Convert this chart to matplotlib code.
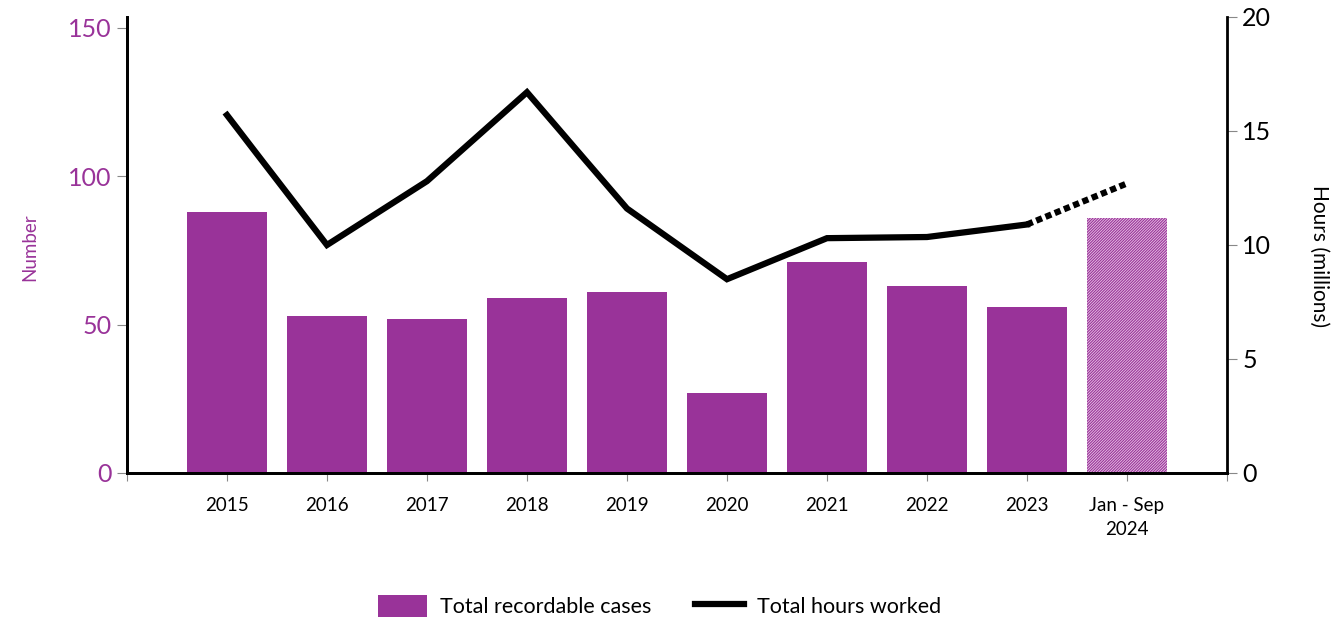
import numpy as np
import matplotlib.pyplot as plt
from matplotlib.lines import Line2D
from matplotlib.patches import Patch

plt.rcParams['font.family'] = ['Lato', 'DejaVu Sans']
plt.rcParams['hatch.linewidth'] = 0.8

years = ['2015', '2016', '2017', '2018', '2019', '2020', '2021', '2022', '2023', 'Jan - Sep\n2024']
cases = [88, 53, 52, 59, 61, 27, 71, 63, 56, 86]
hours = [15.7, 10.0, 12.8, 16.7, 11.6, 8.5, 10.3, 10.35, 10.9, 12.7]

purple = '#993399'
tick_grey = '#888888'

fig = plt.figure(figsize=(13.35, 6.25), dpi=100)
ax = fig.add_axes([0.0951, 0.2432, 0.824, 0.7296])
ax2 = ax.twinx()

x = np.arange(1, len(years) + 1)

# full-year bars, partial year hatched
ax.bar(x[:-1], cases[:-1], width=0.8, color=purple, zorder=2)
ax.bar(x[-1], cases[-1], width=0.8, facecolor='#e8c6e6', edgecolor=purple,
       hatch='////////////', linewidth=0, zorder=2)

ax2.plot(x[:-1], hours[:-1], color='black', lw=4.5, solid_joinstyle='miter', zorder=3)
ax2.plot(x[-2:], hours[-2:], color='black', lw=4.5, ls=(0, (1, 0.6)), zorder=3)

ax.set_xlim(0, 11)
ax.set_ylim(0, 153.7)
ax2.set_ylim(0, 20)

ax.set_xticks(np.arange(0, 12))
ax.set_xticklabels([''] + years + [''], fontsize=13.5, linespacing=1.5)
ax.set_yticks([0, 50, 100, 150])
ax.tick_params(axis='x', length=6, color=tick_grey, pad=11)
ax.tick_params(axis='y', length=7, color=tick_grey, labelcolor=purple, labelsize=18, pad=4)
ax2.set_yticks([0, 5, 10, 15, 20])
ax2.tick_params(axis='y', length=7, color=tick_grey, labelsize=18, pad=4)

for a in (ax, ax2):
    a.spines['top'].set_visible(False)
    for s in ('left', 'right', 'bottom'):
        a.spines[s].set_linewidth(2)
ax.spines['right'].set_visible(False)

fig.text(0.022, 0.605, 'Number', rotation=90, color=purple, fontsize=13.5,
         ha='center', va='center')
fig.text(0.988, 0.59, 'Hours (millions)', rotation=270, fontsize=15,
         ha='center', va='center')

handles = [Patch(facecolor=purple, edgecolor='none'),
           Line2D([0], [0], color='black', lw=4.5)]
fig.legend(handles, ['Total recordable cases', 'Total hours worked'],
           loc='center', bbox_to_anchor=(0.494, 0.03), ncol=2, frameon=False,
           fontsize=15.5, handlelength=2.3, handleheight=1.2, handletextpad=0.6,
           columnspacing=2.0)

fig.savefig('out.png', dpi=100)
